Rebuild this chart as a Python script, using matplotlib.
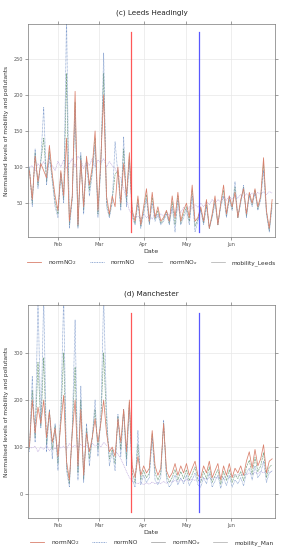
import matplotlib
matplotlib.use("Agg")
import matplotlib.pyplot as plt
import matplotlib.dates as mdates
from matplotlib.lines import Line2D
import pandas as pd
import numpy as np

dates = pd.date_range("2020-01-12", "2020-06-30", freq="2D")

leeds_no2 = [95, 55, 115, 80, 105, 95, 85, 130, 90, 60, 40, 95, 60, 140, 25, 60, 205, 20, 110, 45,
             115, 75, 100, 150, 40, 110, 200, 60, 35, 60, 45, 100, 50, 105, 60, 120, 40,
             25, 60, 20, 45, 70, 25, 65, 30, 45, 25, 30, 40, 25, 60, 30, 65, 25, 40, 50, 30, 75,
             25, 30, 45, 25, 55, 15, 35, 60, 20, 50, 75, 35, 60, 45, 65, 30, 55, 70, 35, 65, 50,
             70, 45, 60, 113, 40, 15, 55]
leeds_no = [100, 45, 125, 70, 110, 183, 75, 115, 80, 45, 30, 90, 50, 310, 15, 55, 180, 15, 120, 35,
            110, 60, 90, 130, 30, 100, 258, 45, 30, 50, 135, 90, 40, 142, 45, 110, 30,
            20, 50, 15, 35, 55, 20, 50, 25, 35, 20, 25, 35, 20, 45, 10, 55, 20, 30, 40, 20, 60,
            10, 25, 40, 20, 45, 15, 30, 50, 20, 45, 60, 30, 55, 40, 80, 30, 50, 75, 30, 60, 45,
            65, 40, 55, 95, 35, 10, 45]
leeds_nox = [98, 50, 120, 75, 108, 140, 80, 122, 85, 52, 35, 92, 55, 230, 20, 58, 190, 18, 115, 40,
             112, 68, 95, 140, 35, 105, 230, 52, 32, 55, 90, 95, 45, 125, 52, 115, 35,
             22, 55, 18, 40, 62, 22, 58, 28, 40, 22, 28, 38, 22, 52, 20, 60, 22, 35, 45, 25, 68,
             18, 28, 42, 22, 50, 15, 32, 55, 20, 48, 68, 32, 58, 42, 72, 30, 52, 72, 32, 62, 48,
             68, 42, 58, 105, 38, 12, 50]
leeds_mob = [100, 102, 95, 105, 100, 108, 98, 106, 102, 95, 108, 100, 110, 98, 105, 112, 100, 115,
             110, 98, 108, 102, 112, 100, 110, 105, 112, 100, 108, 102, 98,
             90, 85, 70, 55, 40, 35, 30, 32, 28, 35, 30, 33, 28, 36, 30, 35, 32, 38, 33, 40, 35,
             42, 37, 44, 40, 45, 42, 48, 44, 50, 45, 52, 48, 55, 50, 55, 52, 58, 54, 60, 55, 60,
             57, 62, 58, 63, 60, 64, 60, 65, 62, 66, 62, 66, 64]

man_no2 = [100, 200, 130, 185, 150, 200, 120, 175, 110, 140, 80, 150, 210, 70, 30, 130, 200, 60, 180,
           40, 130, 90, 120, 160, 110, 150, 200, 130, 90, 100, 80, 160, 110, 180, 90, 200, 60,
           35, 80, 40, 60, 45, 55, 135, 60, 40, 55, 150, 50, 35, 45, 65, 40, 60, 45, 65, 40, 55,
           70, 40, 35, 60, 45, 70, 35, 50, 65, 30, 60, 40, 65, 35, 55, 45, 60, 40, 70, 90, 55,
           95, 60, 75, 105, 45, 70, 75]
man_no = [90, 250, 110, 420, 140, 420, 90, 180, 75, 150, 50, 180, 420, 50, 15, 140, 370, 30, 230,
          25, 150, 60, 120, 200, 80, 160, 420, 180, 60, 90, 50, 170, 80, 180, 60, 190, 30,
          15, 135, 20, 40, 25, 35, 120, 30, 20, 35, 157, 30, 15, 25, 40, 20, 35, 22, 40, 18, 30,
          45, 20, 15, 35, 22, 45, 15, 28, 40, 12, 35, 18, 40, 15, 30, 22, 35, 18, 45, 55, 30,
          60, 35, 45, 70, 25, 45, 50]
man_nox = [95, 220, 120, 280, 145, 290, 105, 178, 95, 145, 65, 165, 300, 60, 22, 135, 270, 45, 200,
           32, 140, 75, 120, 180, 95, 155, 300, 155, 75, 95, 65, 165, 95, 180, 75, 195, 45,
           25, 105, 30, 50, 35, 45, 128, 45, 30, 45, 152, 40, 25, 35, 52, 30, 48, 33, 52, 29, 42,
           58, 30, 25, 48, 33, 58, 25, 39, 52, 21, 48, 29, 52, 25, 42, 33, 48, 29, 58, 72, 42,
           78, 48, 60, 88, 35, 58, 62]
man_mob = [100, 98, 102, 90, 100, 95, 104, 92, 100, 96, 105, 98, 102, 95, 108, 100, 104, 98, 106,
           100, 104, 96, 108, 102, 106, 100, 110, 104, 100, 96, 92,
           85, 75, 62, 48, 35, 28, 25, 22, 25, 20, 24, 21, 26, 22, 25, 22, 27, 23, 28, 25, 29,
           26, 30, 27, 31, 28, 32, 29, 33, 30, 34, 31, 35, 32, 36, 34, 38, 35, 39, 36, 40, 38,
           42, 39, 43, 41, 45, 42, 46, 44, 48, 45, 49, 46, 48]

lockdown = pd.Timestamp("2020-03-23")
easing = pd.Timestamp("2020-05-10")

c_no2 = "#d9806c"
c_no = "#6f8fc6"
c_nox = "#7fa88a"
c_mob = "#c2aee0"

fig = plt.figure(figsize=(2.81, 5.5), dpi=100)

panels = [
    dict(rect=[0.0996, 0.569, 0.879, 0.387], title="(c) Leeds Headingly",
         data=(leeds_no2, leeds_no, leeds_nox, leeds_mob), ylim=(3, 298),
         yticks=[50, 100, 150, 200, 250], vl=(10, 287), mob="mobility_Leeds", legy=0.523),
    dict(rect=[0.0996, 0.058, 0.879, 0.3875], title="(d) Manchester",
         data=(man_no2, man_no, man_nox, man_mob), ylim=(-51, 402),
         yticks=[0, 100, 200, 300], vl=(-38, 385), mob="mobility_Man", legy=0.0135),
]

for p in panels:
    ax = fig.add_axes(p["rect"])
    no2, no, nox, mob = p["data"]
    ax.plot(dates, mob, color=c_mob, lw=0.5, ls=(0, (1.5, 1)))
    ax.plot(dates, nox, color=c_nox, lw=0.5, ls=(0, (3, 1)))
    ax.plot(dates, no, color=c_no, lw=0.5, ls=(0, (1, 1)))
    ax.plot(dates, no2, color=c_no2, lw=0.55)
    ax.axvline(lockdown, ymin=(p["vl"][0] - p["ylim"][0]) / (p["ylim"][1] - p["ylim"][0]),
               ymax=(p["vl"][1] - p["ylim"][0]) / (p["ylim"][1] - p["ylim"][0]),
               color="#ff3b3b", lw=0.9, alpha=0.85)
    ax.axvline(easing, ymin=(p["vl"][0] - p["ylim"][0]) / (p["ylim"][1] - p["ylim"][0]),
               ymax=(p["vl"][1] - p["ylim"][0]) / (p["ylim"][1] - p["ylim"][0]),
               color="#3b3bff", lw=0.9, alpha=0.85)
    ax.set_xlim(pd.Timestamp("2020-01-11"), pd.Timestamp("2020-07-02"))
    ax.set_ylim(*p["ylim"])
    ax.set_yticks(p["yticks"])
    ax.xaxis.set_major_locator(mdates.MonthLocator(bymonth=[2, 3, 4, 5, 6]))
    ax.xaxis.set_major_formatter(mdates.DateFormatter("%b"))
    ax.grid(True, color="#e8e8e8", lw=0.5)
    ax.set_axisbelow(True)
    ax.tick_params(axis="both", labelsize=3.6, length=2, width=0.4, pad=1.5,
                   top=True, right=True, direction="out", colors="#555555")
    for s in ax.spines.values():
        s.set_linewidth(0.5)
        s.set_color("#777777")
    ax.set_title(p["title"], fontsize=5.2, pad=7, color="#222222")
    ax.set_xlabel("Date", fontsize=4.6, labelpad=1.5, color="#333333")
    ax.set_ylabel("Normalised levels of mobility and pollutants", fontsize=4.2,
                  labelpad=3, color="#333333")
    handles = [Line2D([], [], color=c_no2, lw=0.6),
               Line2D([], [], color=c_no, lw=0.6, ls=(0, (1, 1))),
               Line2D([], [], color="#999999", lw=0.5),
               Line2D([], [], color="#aaaaaa", lw=0.5)]
    labels = ["normNO$_2$", "normNO", "normNO$_x$", p["mob"]]
    fig.legend(handles, labels, loc="center", bbox_to_anchor=(0.54, p["legy"]), ncol=4,
               frameon=False, fontsize=4.2, handlelength=2.4, columnspacing=2.2,
               handletextpad=1.2, borderpad=0, borderaxespad=0, labelcolor="#333333")

fig.savefig("out.png", dpi=100)
